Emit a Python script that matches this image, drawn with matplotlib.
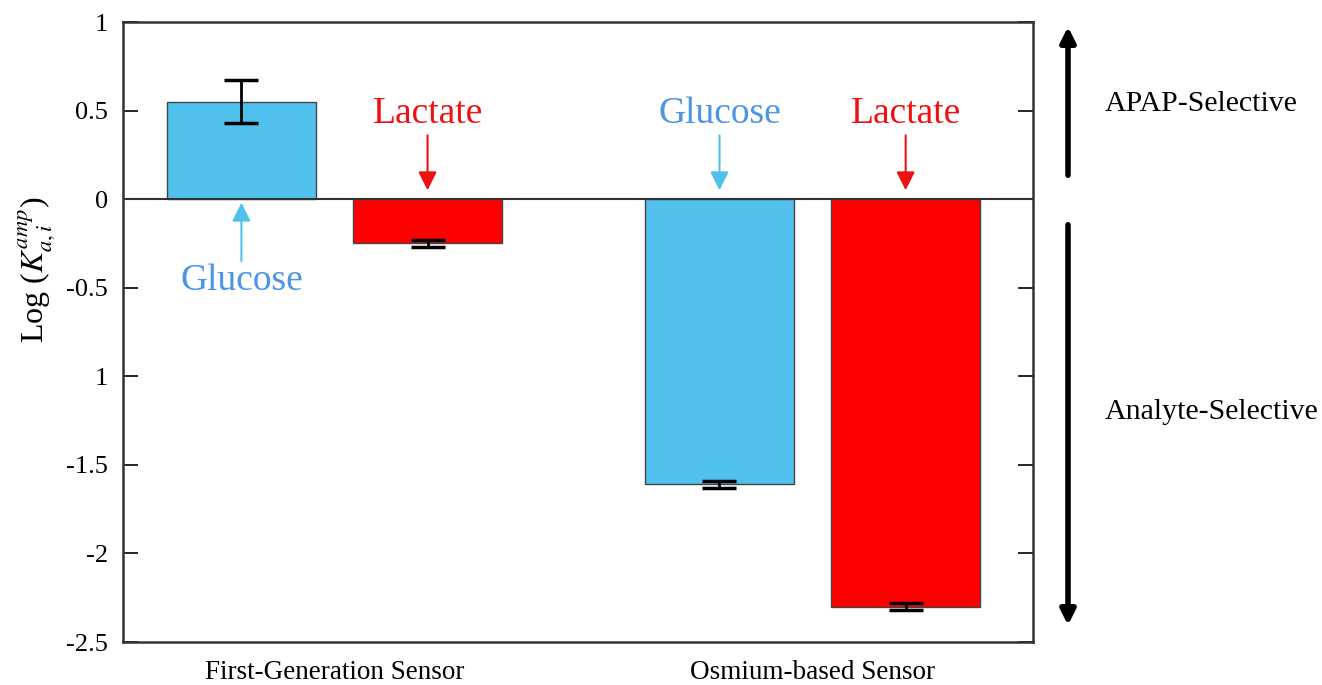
import numpy as np
import matplotlib.pyplot as plt
from matplotlib.patches import FancyArrowPatch

### Data: log selectivity coefficients for the two sensor designs
sensors = ['First-Generation Sensor', 'Osmium-based Sensor']
analytes = ['Glucose', 'Lactate']
log_k = {'Glucose': [0.55, -1.61], 'Lactate': [-0.25, -2.30]}
log_k_err = {'Glucose': [0.12, 0.018], 'Lactate': [0.018, 0.018]}
ytick_vals = [1, 0.5, 0, -0.5, -1, -1.5, -2, -2.5]
ytick_labels = ['1', '0.5', '0', '-0.5', '1', '-1.5', '-2', '-2.5']


def main():
    plt.rcParams['font.family'] = ['Liberation Serif', 'DejaVu Serif']
    plt.rcParams['mathtext.fontset'] = 'stix'

    bar_col = {'Glucose': '#50c1ec', 'Lactate': '#ff0000'}
    txt_col = {'Glucose': '#4a95e6', 'Lactate': '#ee1111'}

    fig = plt.figure()
    fig.set_size_inches(13.22, 6.85)
    ax = fig.add_axes([123/1322, 1-642/685, 910/1322, 620/685])

    grp = np.array([0., 3.21])
    offs = {'Glucose': -0.625, 'Lactate': 0.625}
    width = 1.0

    for an in analytes:
        xx = grp + offs[an]
        ax.bar(xx, log_k[an], width, color=bar_col[an], edgecolor='#444444', lw=1.0, zorder=2)
        ax.errorbar(xx, log_k[an], yerr=log_k_err[an], fmt='none', ecolor='k',
                    elinewidth=2, capsize=12, capthick=2.5, zorder=3)

    ax.axhline(0, color='#333333', lw=1.5, zorder=4)

    ### Labels with arrows pointing at each bar
    for i in range(len(sensors)):
        for an in analytes:
            x = grp[i] + offs[an]
            v = log_k[an][i]
            acol = bar_col[an] if an == 'Glucose' else '#ee1111'
            if v > 0:
                # label below the zero line, arrow pointing up
                ax.annotate('', xy=(x, -0.02), xytext=(x, -0.35),
                            arrowprops=dict(arrowstyle='-|>', color=acol, lw=1.5,
                                            mutation_scale=28, shrinkA=0, shrinkB=0))
                ax.text(x, -0.46, an, color=txt_col[an], fontsize=27, ha='center', va='center')
            else:
                ax.annotate('', xy=(x, 0.05), xytext=(x, 0.36),
                            arrowprops=dict(arrowstyle='-|>', color=acol, lw=1.5,
                                            mutation_scale=28, shrinkA=0, shrinkB=0))
                ax.text(x, 0.48, an, color=txt_col[an], fontsize=27, ha='center', va='center')

    ax.set_xlim(-1.42, 4.69)
    ax.set_ylim(-2.5, 1.0)
    ax.set_yticks(ytick_vals)
    ax.set_yticklabels(ytick_labels)
    ax.set_xticks(grp)
    ax.set_xticklabels(sensors)
    ax.tick_params(axis='y', direction='in', length=10.5, width=1.2, labelsize=19, pad=11,
                   left=True, right=True)
    ax.tick_params(axis='x', length=0, labelsize=19.5, pad=13)
    for sp in ax.spines.values():
        sp.set_linewidth(1.8)
        sp.set_color('#333333')

    ax.set_ylabel(r'Log ($K_{a,i}^{amp}$)', fontsize=23)
    ax.yaxis.set_label_coords(-0.072, 0.6)

    ### Selectivity arrows to the right of the axes
    xa = 1068/1322
    fig.patches.append(FancyArrowPatch(
        (xa, 1-178/685), (xa, 1-24/685), transform=fig.transFigure,
        arrowstyle='-|>', mutation_scale=22, lw=4, color='k'))
    fig.patches.append(FancyArrowPatch(
        (xa, 1-222/685), (xa, 1-628/685), transform=fig.transFigure,
        arrowstyle='-|>', mutation_scale=22, lw=4, color='k'))
    fig.text(1105/1322, 1-104/685, 'APAP-Selective', fontsize=21.5, ha='left', va='center')
    fig.text(1105/1322, 1-412/685, 'Analyte-Selective', fontsize=21.5, ha='left', va='center')

    fig.savefig('out.png', dpi=100)


if __name__ == "__main__":
    main()
